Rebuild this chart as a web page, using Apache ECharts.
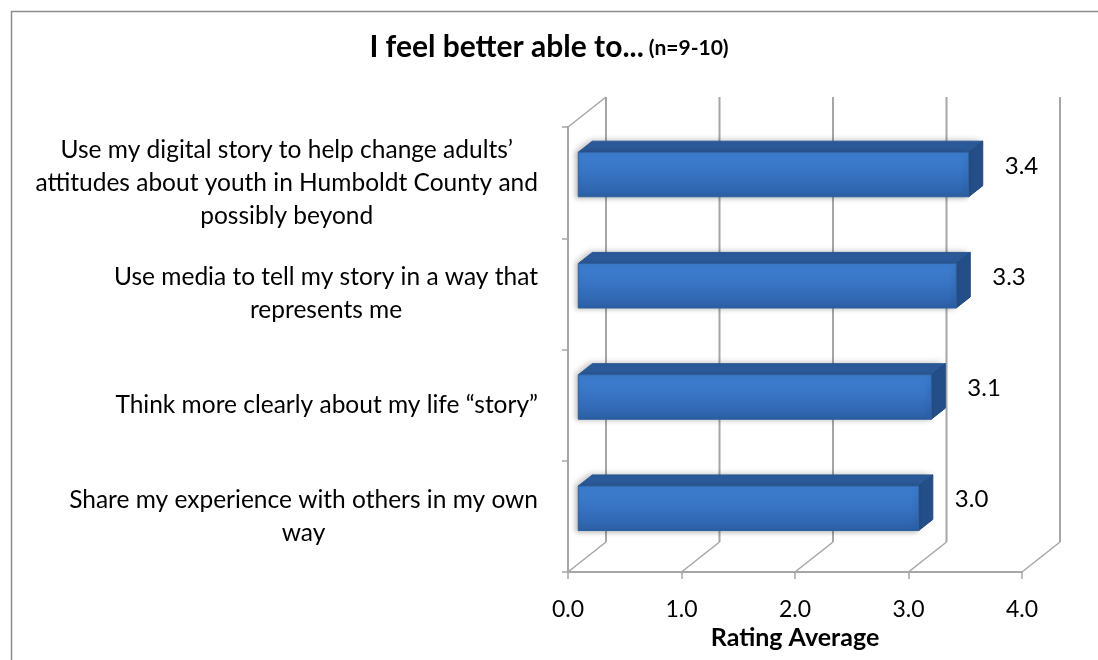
<!DOCTYPE html>
<html>
<head>
<meta charset="utf-8">
<title>I feel better able to...</title>
<script src="https://cdn.jsdelivr.net/npm/echarts@6.0.0/dist/echarts.min.js"></script>
<style>
  html, body { margin: 0; padding: 0; background: #fff; }
  #chart { width: 1098px; height: 660px; }
</style>
</head>
<body>
<div id="chart"></div>
<script>
// data
const categories = [
  'Use my digital story to help change adults’\nattitudes about youth in Humboldt County and\npossibly beyond',
  'Use media to tell my story in a way that\nrepresents me',
  'Think more clearly about my life “story”',
  'Share my experience with others in my own\nway'
];
const ratings = [3.44, 3.33, 3.11, 3.0];
const xTicks = [0, 1, 2, 3, 4];

const FONT = 'Lato, "Open Sans", sans-serif';
// 3d look: offset of the back wall
const DX = 38, DY = -30;
const GRID_COLOR = '#a6a6a6';

let dom = document.getElementById('chart');
let chart = echarts.init(dom);

function wallItem(params, api) {
  const v = api.value(0);
  const cs = params.coordSys;
  const x = api.coord([v, 0])[0];
  const top = cs.y, bottom = cs.y + cs.height;
  const kids = [
    // back wall vertical line
    { type: 'line', shape: { x1: x + DX, y1: top + DY, x2: x + DX, y2: bottom + DY },
      style: { stroke: GRID_COLOR, lineWidth: 2 } },
    // floor diagonal
    { type: 'line', shape: { x1: x, y1: bottom, x2: x + DX, y2: bottom + DY },
      style: { stroke: GRID_COLOR, lineWidth: 1.5 } }
  ];
  if (v === 0) {
    kids.push({ type: 'line', shape: { x1: x, y1: top, x2: x + DX, y2: top + DY },
      style: { stroke: GRID_COLOR, lineWidth: 1.5 } });
  }
  return { type: 'group', children: kids };
}

function barItem(params, api) {
  const v = api.value(0), i = api.value(1);
  const band = api.size([0, 1])[1];
  const p0 = api.coord([0, i]), p1 = api.coord([v, i]);
  const f = 0.27, d = 0.37;
  const h = band * 0.4;
  const x0 = p0[0] + f * DX, x1 = p1[0] + f * DX;
  const yc = p0[1] + f * DY;
  const yT = yc - h / 2, yB = yc + h / 2;
  const ox = d * DX, oy = d * DY;
  return {
    type: 'group',
    children: [
      { type: 'polygon', shape: { points: [[x0, yT], [x1, yT], [x1 + ox, yT + oy], [x0 + ox, yT + oy]] },
        style: { fill: '#2d5c9c', stroke: '#2a5792', lineWidth: 1,
          shadowBlur: 6, shadowColor: 'rgba(0,0,0,0.25)', shadowOffsetX: -3 } },
      { type: 'polygon', shape: { points: [[x1, yT], [x1 + ox, yT + oy], [x1 + ox, yB + oy], [x1, yB]] },
        style: { fill: '#244e87', stroke: '#22497f', lineWidth: 1 } },
      { type: 'rect', shape: { x: x0, y: yT, width: x1 - x0, height: h },
        style: {
          fill: new echarts.graphic.LinearGradient(0, 0, 0, 1, [
            { offset: 0, color: '#3e7fd2' },
            { offset: 0.5, color: '#3773c2' },
            { offset: 1, color: '#2c60a6' }
          ]),
          stroke: '#2e619f', lineWidth: 1,
          shadowBlur: 5, shadowColor: 'rgba(0,0,0,0.25)', shadowOffsetX: -2, shadowOffsetY: 1
        } },
      { type: 'text', x: x1 + ox + 22, y: yc + oy / 2 - 3,
        style: { text: v.toFixed(1), font: '24px ' + FONT, fill: '#000',
          textAlign: 'left', textVerticalAlign: 'middle' } }
    ]
  };
}

chart.setOption({
  animation: false,
  backgroundColor: '#fff',
  title: {
    text: '{a|I feel better able to...} {b|(n=9-10)}',
    left: 'center',
    top: 21,
    textStyle: {
      rich: {
        a: { fontFamily: FONT, fontWeight: 'bold', fontSize: 30, lineHeight: 36,
          verticalAlign: 'bottom', color: '#000' },
        b: { fontFamily: FONT, fontWeight: 'bold', fontSize: 21, lineHeight: 36,
          verticalAlign: 'bottom', padding: [0, 0, 3, 0], color: '#000' }
      }
    }
  },
  graphic: [
    { type: 'rect', left: 9, top: 9, shape: { width: 1200, height: 700 },
      style: { fill: 'none', stroke: '#8c8c8c', lineWidth: 1.5 }, silent: true }
  ],
  grid: { left: 568, right: 76, top: 127, bottom: 88 },
  xAxis: {
    type: 'value', min: 0, max: 4, interval: 1,
    name: 'Rating Average', nameLocation: 'middle', nameGap: 51,
    nameTextStyle: { fontFamily: FONT, fontWeight: 'bold', fontSize: 25, color: '#000' },
    axisLine: { show: true, lineStyle: { color: GRID_COLOR, width: 2 } },
    axisTick: { show: true, length: 7, lineStyle: { color: GRID_COLOR, width: 1.5 } },
    splitLine: { show: false },
    axisLabel: { margin: 26, fontFamily: FONT, fontSize: 23, color: '#000',
      formatter: v => v.toFixed(1) }
  },
  yAxis: {
    type: 'category', inverse: true, data: categories,
    axisLine: { show: true, lineStyle: { color: GRID_COLOR, width: 2 } },
    axisTick: { show: true, length: 6, lineStyle: { color: GRID_COLOR, width: 1.5 } },
    axisLabel: {
      margin: 30,
      formatter: v => v.split('\n').map(l => '{c|' + l + '}').join('\n'),
      rich: { c: { align: 'center', fontFamily: FONT, fontSize: 24.5, lineHeight: 33, color: '#000' } }
    }
  },
  series: [
    {
      type: 'custom', name: 'walls', z: 1, silent: true,
      renderItem: wallItem,
      encode: { x: 0 },
      data: xTicks.map(t => [t])
    },
    {
      type: 'custom', name: 'Rating Average', z: 3,
      renderItem: barItem,
      encode: { x: 0, y: 1 },
      data: ratings.map((v, i) => [v, i])
    }
  ]
});
</script>
</body>
</html>
